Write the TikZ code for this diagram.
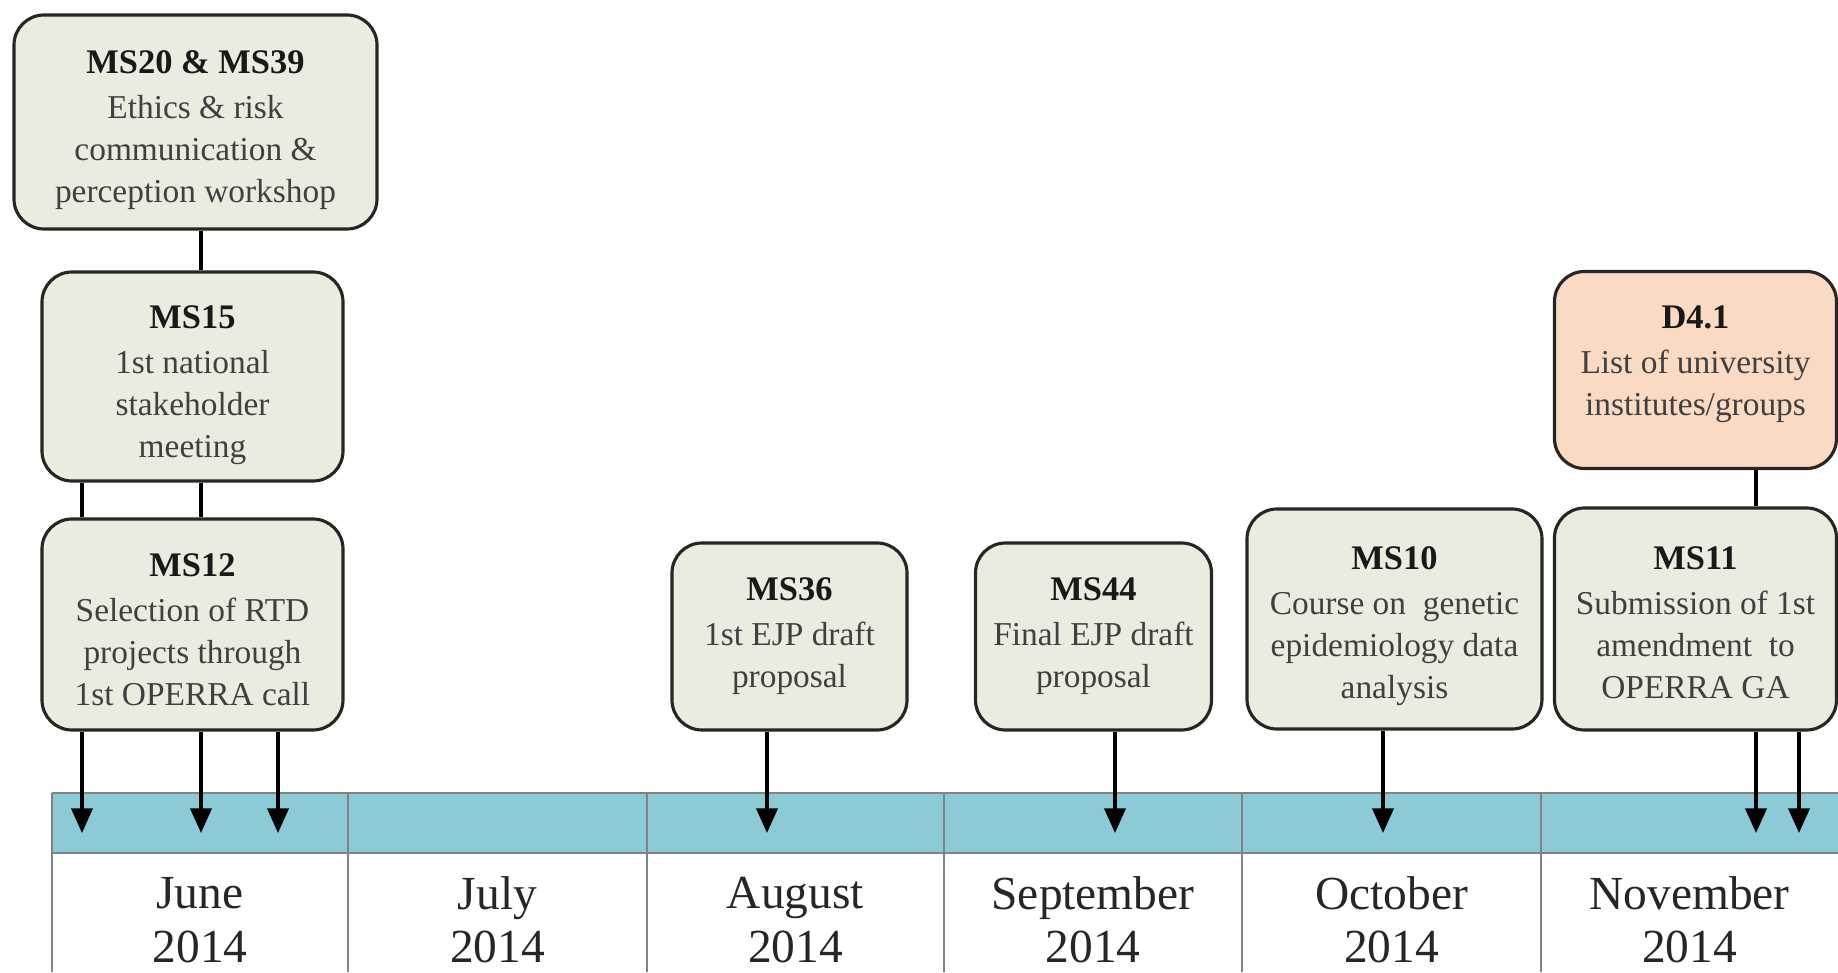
\documentclass[tikz,border=0pt]{standalone}
\usepackage{fontspec}
\setmainfont{Liberation Serif}
\usetikzlibrary{positioning,arrows.meta}
\definecolor{msgreen}{RGB}{233,236,222}
\definecolor{delpeach}{RGB}{250,218,195}
\definecolor{bandblue}{RGB}{140,203,214}
\definecolor{gridgrey}{RGB}{130,130,130}
\newcommand{\mstitle}{\fontsize{9.8}{12}\selectfont\bfseries\color{black!90}}
\tikzset{
  msbox/.style={draw=black!85,line width=0.9pt,rounded corners=0.3cm,fill=msgreen,
    align=center,inner sep=0pt,text=black!75,font=\fontsize{9.5}{12}\selectfont},
  delbox/.style={msbox,fill=delpeach},
  conn/.style={line width=1pt,black},
  arr/.style={conn,-{Triangle[width=6pt,length=7pt]}},
  gridline/.style={gridgrey,line width=0.6pt},
  month/.style={align=center,inner sep=0pt,font=\fontsize{13.5}{15.2}\selectfont,text=black!85}
}

\begin{document}
\begin{tikzpicture}
  \useasboundingbox (0,0) rectangle (18.38,9.72);
  \fill[bandblue] (0.52,1.19) rectangle (18.38,1.79);
  \draw[gridline] (0.52,1.79) -- (18.38,1.79) (0.52,1.19) -- (18.38,1.19);
  \foreach \x in {0.52,3.48,6.47,9.44,12.42,15.41}
    \draw[gridline] (\x,0) -- (\x,1.79);
  \foreach \x/\m [count=\i] in {2.00/June,4.975/July,7.955/August,10.93/September,13.915/October,16.895/November}
    \node[month] (mon\i) at (\x,0.52) {\m\\2014};

  \node[msbox,minimum width=3.63cm,minimum height=2.14cm] (ms2039) at (1.955,8.50)
    {{\mstitle\rule{0pt}{11pt}MS20 \& MS39}\\[0.8pt]Ethics \& risk\\communication \&\\perception workshop};
  \node[msbox,minimum width=3.01cm,minimum height=2.09cm] (ms15) at (1.925,5.955)
    {{\mstitle\rule{0pt}{11.5pt}MS15}\\[0.8pt]1st national\\stakeholder\\meeting};
  \node[msbox,minimum width=3.01cm,minimum height=2.11cm] (ms12) at (1.925,3.475)
    {{\mstitle\rule{0pt}{9.6pt}MS12}\\[0.8pt]Selection of RTD\\projects through\\1st OPERRA call};
  \node[msbox,minimum width=2.35cm,minimum height=1.87cm] (ms36) at (7.895,3.355)
    {{\mstitle MS36}\\[0.8pt]1st EJP draft\\proposal};
  \node[msbox,minimum width=2.36cm,minimum height=1.87cm] (ms44) at (10.935,3.355)
    {{\mstitle MS44}\\[0.8pt]Final EJP draft\\proposal};
  \node[msbox,minimum width=2.95cm,minimum height=2.20cm] (ms10) at (13.945,3.53)
    {{\mstitle\rule{0pt}{10.5pt}MS10}\\[0.8pt]Course on\ \ genetic\\epidemiology data\\analysis};
  \node[msbox,minimum width=2.82cm,minimum height=2.22cm] (ms11) at (16.955,3.53)
    {{\mstitle\rule{0pt}{8.6pt}MS11}\\[0.8pt]Submission of 1st\\amendment\ \ to\\OPERRA GA};
  \node[delbox,minimum width=2.82cm,minimum height=1.97cm] (d41) at (16.955,6.02)
    {{\mstitle D4.1}\\[0.8pt]List of university\\institutes/groups\rule[-5.5pt]{0pt}{1pt}};

  \coordinate (t1) at (0.82,1.39);
  \coordinate (t2) at (2.01,1.39);
  \coordinate (t3) at (2.78,1.39);
  \coordinate (t4) at (7.67,1.39);
  \coordinate (t5) at (11.15,1.39);
  \coordinate (t6) at (13.83,1.39);
  \coordinate (t7) at (17.56,1.39);
  \coordinate (t8) at (17.99,1.39);

  \draw[conn] (ms2039.south -| t2) -- (ms15.north -| t2);
  \draw[conn] (ms15.south -| t1) -- (ms12.north -| t1);
  \draw[conn] (ms15.south -| t2) -- (ms12.north -| t2);
  \draw[conn] (d41.south -| t7) -- (ms11.north -| t7);
  \draw[arr] (ms12.south -| t1) -- (t1);
  \draw[arr] (ms12.south -| t2) -- (t2);
  \draw[arr] (ms12.south -| t3) -- (t3);
  \draw[arr] (ms36.south -| t4) -- (t4);
  \draw[arr] (ms44.south -| t5) -- (t5);
  \draw[arr] (ms10.south -| t6) -- (t6);
  \draw[arr] (ms11.south -| t7) -- (t7);
  \draw[arr] (ms11.south -| t8) -- (t8);
\end{tikzpicture}
\end{document}
